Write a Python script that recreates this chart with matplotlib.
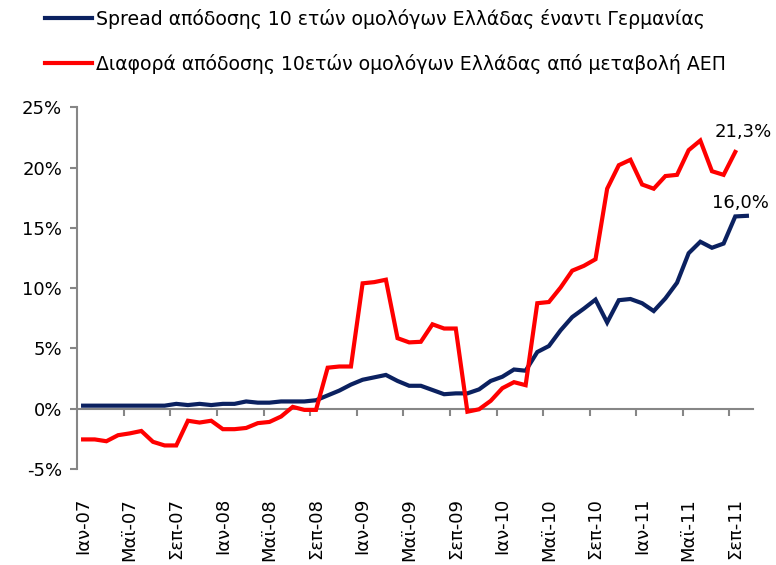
import matplotlib
matplotlib.use("Agg")
import matplotlib.pyplot as plt
import matplotlib.ticker as ticker
import numpy as np

# monthly, Jan-07 .. Oct-11
spread = [0.25, 0.25, 0.25, 0.25, 0.25, 0.25, 0.25, 0.25, 0.4, 0.3,
          0.4, 0.3, 0.4, 0.4, 0.6, 0.5, 0.5, 0.6, 0.6, 0.6,
          0.7, 1.1, 1.5, 2.0, 2.4, 2.6, 2.8, 2.3, 1.9, 1.9,
          1.55, 1.2, 1.27, 1.27, 1.6, 2.3, 2.65, 3.25, 3.15, 4.7,
          5.2, 6.5, 7.6, 8.3, 9.05, 7.15, 9.0, 9.1, 8.75, 8.1,
          9.15, 10.45, 12.9, 13.85, 13.35, 13.7, 15.95, 16.0]
diff_gdp = [-2.55, -2.55, -2.7, -2.2, -2.05, -1.85, -2.75, -3.05, -3.05, -1.0,
            -1.15, -1.0, -1.7, -1.7, -1.6, -1.2, -1.1, -0.65, 0.15, -0.1,
            -0.1, 3.4, 3.5, 3.5, 10.4, 10.5, 10.7, 5.85, 5.5, 5.55,
            7.0, 6.65, 6.65, -0.25, -0.05, 0.65, 1.7, 2.2, 1.95, 8.75,
            8.85, 10.05, 11.45, 11.85, 12.4, 18.25, 20.2, 20.65, 18.6, 18.25,
            19.3, 19.4, 21.45, 22.25, 19.7, 19.4, 21.3]
tick_labels = ['Ιαν-07', 'Μαϊ-07', 'Σεπ-07', 'Ιαν-08', 'Μαϊ-08', 'Σεπ-08',
               'Ιαν-09', 'Μαϊ-09', 'Σεπ-09', 'Ιαν-10', 'Μαϊ-10', 'Σεπ-10',
               'Ιαν-11', 'Μαϊ-11', 'Σεπ-11']
name_spread = 'Spread απόδοσης 10 ετών ομολόγων Ελλάδας έναντι Γερμανίας'
name_diff = 'Διαφορά απόδοσης 10ετών ομολόγων Ελλάδας από μεταβολή ΑΕΠ'

plt.rcParams['font.family'] = ['DejaVu Sans']
blue = '#0b2160'
red = '#ff0000'
grey = '#868686'

fig = plt.figure(figsize=(7.76, 5.65), dpi=100)
ax = fig.add_axes([0.0996, 0.170, 0.8704, 0.640])

x1 = np.arange(len(spread))
x2 = np.arange(len(diff_gdp))
l1, = ax.plot(x1, spread, color=blue, lw=3, solid_joinstyle='miter')
l2, = ax.plot(x2, diff_gdp, color=red, lw=3, solid_joinstyle='miter')

ax.set_xlim(-0.5, len(spread) - 0.5)
ax.set_ylim(-5, 25)
ax.yaxis.set_major_locator(ticker.MultipleLocator(5))
ax.yaxis.set_major_formatter(ticker.FuncFormatter(lambda v, p: f'{v:.0f}%'))

for s in ['top', 'right', 'bottom']:
    ax.spines[s].set_visible(False)
ax.spines['left'].set_color(grey)
ax.spines['left'].set_linewidth(1.5)
ax.tick_params(axis='y', colors=grey, length=5, width=1.5, labelsize=13,
               labelcolor='black', pad=6)

# category labels every 4 months at the bottom
ax.set_xticks(np.arange(0, len(spread), 4))
ax.set_xticklabels(tick_labels, rotation=90, fontsize=13)
ax.tick_params(axis='x', length=0, pad=21)

# zero line with tick marks between categories
zero = 5 / 30
sec = ax.secondary_xaxis(zero)
sec.spines['bottom'].set_color(grey)
sec.spines['bottom'].set_linewidth(1.5)
sec.set_xticks(np.arange(3.5, len(spread), 4))
sec.tick_params(axis='x', colors=grey, length=5, width=1.5, labelbottom=False)

ax.annotate(f'{diff_gdp[-1]:.1f}%'.replace('.', ','), (x2[-1], diff_gdp[-1]),
            xytext=(6, 8), textcoords='offset points', ha='center',
            va='bottom', fontsize=13)
ax.annotate(f'{spread[-1]:.1f}%'.replace('.', ','), (x1[-1], spread[-1]),
            xytext=(-5, 3), textcoords='offset points', ha='center',
            va='bottom', fontsize=13)

fig.legend([l1, l2], [name_spread, name_diff], loc='upper left',
           bbox_to_anchor=(0.036, 1.014), frameon=False, fontsize=13.6,
           handlelength=2.5, handletextpad=0.2, labelspacing=1.3)

fig.savefig('out.png', dpi=100)
